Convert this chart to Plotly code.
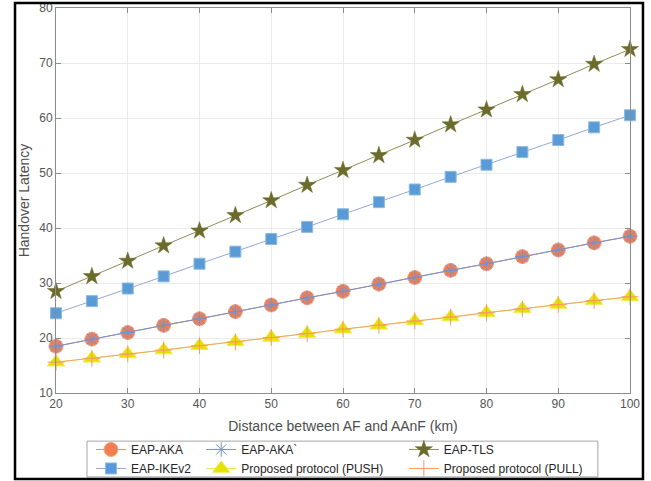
import plotly.graph_objects as go

distance = [20, 25, 30, 35, 40, 45, 50, 55, 60, 65, 70, 75, 80, 85, 90, 95, 100]
eap_aka = [18.5, 19.8, 21.0, 22.3, 23.5, 24.8, 26.0, 27.3, 28.5, 29.8, 31.0, 32.3, 33.5, 34.8, 36.0, 37.3, 38.5]
eap_aka_prime = [18.5, 19.8, 21.0, 22.3, 23.5, 24.8, 26.0, 27.3, 28.5, 29.8, 31.0, 32.3, 33.5, 34.8, 36.0, 37.3, 38.5]
eap_tls = [28.5, 31.2, 34.0, 36.8, 39.5, 42.3, 45.0, 47.8, 50.5, 53.2, 56.0, 58.8, 61.5, 64.3, 67.0, 69.8, 72.5]
eap_ikev2 = [24.5, 26.7, 29.0, 31.2, 33.5, 35.7, 38.0, 40.2, 42.5, 44.7, 47.0, 49.3, 51.5, 53.8, 56.0, 58.3, 60.5]
push = [15.6, 16.3, 17.1, 17.8, 18.6, 19.3, 20.1, 20.8, 21.6, 22.3, 23.1, 23.8, 24.6, 25.3, 26.1, 26.8, 27.5]
pull = [15.6, 16.3, 17.1, 17.8, 18.6, 19.3, 20.1, 20.8, 21.6, 22.3, 23.1, 23.8, 24.6, 25.3, 26.1, 26.8, 27.5]

x_ticks = [20, 30, 40, 50, 60, 70, 80, 90, 100]
y_ticks = [10, 20, 30, 40, 50, 60, 70, 80]

fig = go.Figure()

fig.add_trace(go.Scatter(x=distance, y=eap_aka, name="EAP-AKA", mode="lines+markers", cliponaxis=False,
                         line=dict(color="#F4845A", width=1),
                         marker=dict(symbol="circle", size=14, color="#F47E4E",
                                     line=dict(color="#F8A488", width=1)),
                         legend="legend"))
fig.add_trace(go.Scatter(x=distance, y=eap_aka_prime, name="EAP-AKA`", mode="lines+markers", cliponaxis=False,
                         line=dict(color="#6F93D6", width=1),
                         marker=dict(symbol="asterisk-open", size=12, color="#6F93D6",
                                     line=dict(color="#6F93D6", width=1)),
                         legend="legend2"))
fig.add_trace(go.Scatter(x=distance, y=eap_tls, name="EAP-TLS", mode="lines+markers", cliponaxis=False,
                         line=dict(color="#8E8E58", width=1),
                         marker=dict(symbol="star", size=13, color="#6B6B2B",
                                     line=dict(color="#6B6B2B", width=0.5)),
                         legend="legend3"))
fig.add_trace(go.Scatter(x=distance, y=eap_ikev2, name="EAP-IKEv2", mode="lines+markers", cliponaxis=False,
                         line=dict(color="#93A8D8", width=1),
                         marker=dict(symbol="square", size=11, color="#5B9BD5",
                                     line=dict(color="#8DBAE4", width=1)),
                         legend="legend"))
fig.add_trace(go.Scatter(x=distance, y=push, name="Proposed protocol (PUSH)", mode="lines+markers", cliponaxis=False,
                         line=dict(color="#E8E64A", width=1),
                         marker=dict(symbol="triangle-up", size=15, color="#E6E200",
                                     line=dict(color="#EDEB50", width=1)),
                         legend="legend2"))
fig.add_trace(go.Scatter(x=distance, y=pull, name="Proposed protocol (PULL)", mode="lines+markers", cliponaxis=False,
                         line=dict(color="#F4A468", width=1),
                         marker=dict(symbol="cross-thin", size=12, color="#F49C62",
                                     line=dict(color="#F49C62", width=1)),
                         legend="legend3"))

FONT = "Liberation Sans, Arial, sans-serif"
leg_common = dict(orientation="v", yanchor="top", xanchor="left", y=-0.109,
                  bgcolor="rgba(0,0,0,0)", borderwidth=0,
                  font=dict(family=FONT, size=12, color="#262626"))

fig.update_layout(
    width=651, height=481,
    margin=dict(l=56, r=21, t=8, b=88, autoexpand=False),
    paper_bgcolor="white", plot_bgcolor="white",
    font=dict(family=FONT, size=12, color="#4D4D4D"),
    legend=dict(x=0.061, **leg_common),
    legend2=dict(x=0.253, **leg_common),
    legend3=dict(x=0.606, **leg_common),
    xaxis=dict(range=[20, 100], tickvals=x_ticks, showgrid=True, gridcolor="#EBEBEB",
               showline=True, linecolor="#8C8C8C", linewidth=1, mirror="ticks",
               ticks="inside", ticklen=5, tickcolor="#8C8C8C", zeroline=False,
               tickfont=dict(size=12, color="#555555"),
               title=dict(text="Distance between AF and AAnF (km)", standoff=10,
                          font=dict(size=14, color="#4D4D4D"))),
    yaxis=dict(range=[10, 80], tickvals=y_ticks, showgrid=True, gridcolor="#EBEBEB",
               showline=True, linecolor="#8C8C8C", linewidth=1, mirror="ticks",
               ticks="inside", ticklen=5, tickcolor="#8C8C8C", zeroline=False,
               tickfont=dict(size=12, color="#555555"),
               title=dict(text="Handover Latency", standoff=6,
                          font=dict(size=14, color="#4D4D4D"))),
    shapes=[
        dict(type="rect", xref="paper", yref="paper", x0=0.054, x1=0.944, y0=-0.125, y1=-0.218,
             line=dict(color="#A6A6A6", width=1), fillcolor="rgba(0,0,0,0)", layer="below"),
        dict(type="rect", xref="paper", yref="paper", x0=-0.0714, x1=1.0226, y0=-0.2234, y1=1.013,
             line=dict(color="black", width=2.5), fillcolor="rgba(0,0,0,0)"),
    ],
)

fig.write_html("out.html", config={"displayModeBar": False},
               post_script="document.body.style.margin='0';document.body.style.overflow='hidden';")
